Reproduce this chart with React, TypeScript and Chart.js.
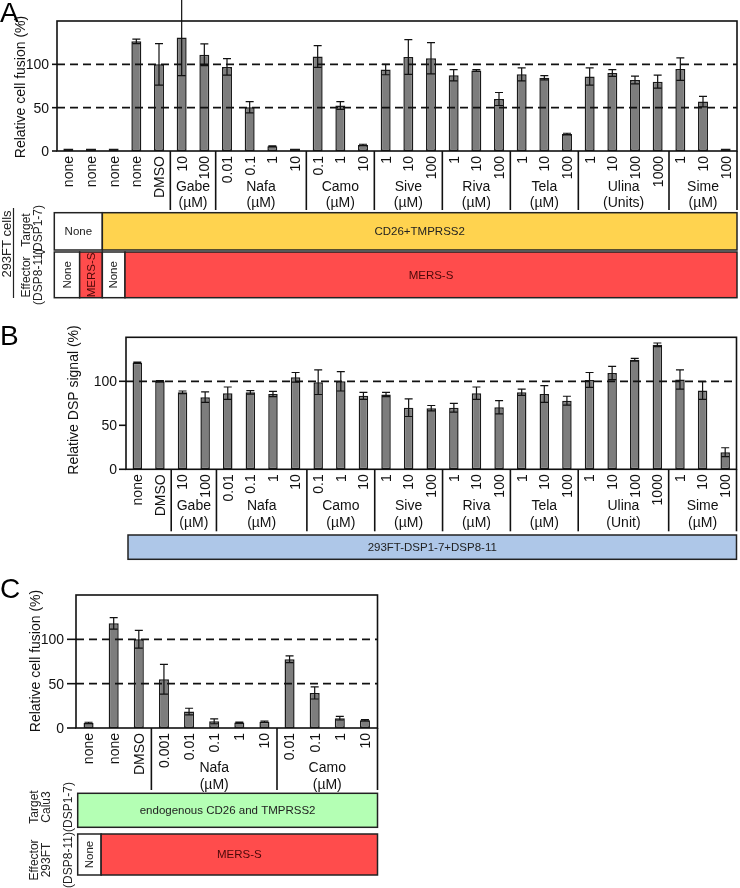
import React, { useEffect, useRef } from 'react';
import { Chart, registerables } from 'chart.js';

Chart.register(...registerables);

// ---------------- Panel A data ----------------
const aLabels = ['none', 'none', 'none', 'none', 'DMSO', '10', '100', '0.01', '0.1', '1', '10', '0.1', '1', '10', '1', '10', '100', '1', '10', '100', '1', '10', '100', '1', '10', '100', '1000', '1', '10', '100'];
const aValues = [0.8, 1, 1, 126.5, 100, 131, 111, 97, 50.5, 5.5, 1, 109, 52.5, 7, 94, 108.5, 107, 87.5, 93, 60, 88.5, 84.5, 19.5, 86, 90, 82, 80, 94.5, 57, 0.8];
const aErrors = [0, 0, 0, 2.5, 24, 44, 12.5, 9.5, 6.5, 0.5, 0, 12.5, 4.5, 0.8, 6, 20, 18, 6.5, 1, 7.5, 7.5, 2.5, 1, 10, 4, 4.5, 7.5, 13, 6, 0];
const aGroupNames = ['Gabe', 'Nafa', 'Camo', 'Sive', 'Riva', 'Tela', 'Ulina', 'Sime'];
const aGroupUnits = ['(µM)', '(µM)', '(µM)', '(µM)', '(µM)', '(µM)', '(Units)', '(µM)'];
const aGroupStarts = [5, 7, 11, 14, 17, 20, 23, 27];
const aGroupSizes = [2, 4, 3, 3, 3, 3, 4, 3];
const aRefLines = [50, 100];

// ---------------- Panel B data ----------------
const bLabels = ['none', 'DMSO', '10', '100', '0.01', '0.1', '1', '10', '0.1', '1', '10', '1', '10', '100', '1', '10', '100', '1', '10', '100', '1', '10', '100', '1000', '1', '10', '100'];
const bValues = [121, 100, 87.5, 82, 86.5, 87.5, 85.5, 104.5, 99, 100, 83.5, 85, 70, 69.5, 70, 86.5, 70.5, 87.5, 85.5, 78, 101.5, 109.5, 124.5, 141.5, 102, 89.5, 19.5];
const bErrors = [0.7, 0.7, 1.5, 6, 7, 2, 3, 5.5, 14, 11, 4, 2.5, 10, 3, 5, 7, 7.5, 3.5, 9.5, 5, 8.5, 7.5, 1.5, 2, 11, 10, 5];
const bGroupNames = ['Gabe', 'Nafa', 'Camo', 'Sive', 'Riva', 'Tela', 'Ulina', 'Sime'];
const bGroupUnits = ['(µM)', '(µM)', '(µM)', '(µM)', '(µM)', '(µM)', '(Unit)', '(µM)'];
const bGroupStarts = [2, 4, 8, 11, 14, 17, 20, 24];
const bGroupSizes = [2, 4, 3, 3, 3, 3, 4, 3];
const bRefLines = [100];

// ---------------- Panel C data ----------------
const cLabels = ['none', 'none', 'DMSO', '0.001', '0.01', '0.1', '1', '10', '0.01', '0.1', '1', '10'];
const cValues = [5.7, 118, 100, 55, 18.5, 7.5, 6.2, 7, 77.5, 39.5, 11, 8.8];
const cErrors = [0.8, 6.5, 10, 16.7, 3.8, 2.7, 0.5, 0.8, 3.8, 6.8, 2, 0.8];
const cGroupNames = ['Nafa', 'Camo'];
const cGroupUnits = ['(µM)', '(µM)'];
const cGroupStarts = [3, 8];
const cGroupSizes = [5, 4];
const cRefLines = [50, 100];

const yTickValues = [0, 50, 100];

const FONT = '"Liberation Sans", Arial, Helvetica, sans-serif';
const WHITE = '#ffffff';
const YELLOW = '#ffd34f';
const RED = '#ff4c4c';
const GREEN = '#b4ffb4';
const BLUE = '#aec7e8';
const DARKRED = '#4a0808';

type Cell = { start: number; end: number; fill: string; text: string; vertical?: boolean; color?: string };
type Row = { top: number; bottom: number; cells: Cell[] };
type SideText = { x: number; y: number; text: string; size: number };
type PanelCfg = {
  id: string;
  letter: string;
  letterY: number;
  top: number;
  height: number;
  padding: { left: number; right: number; top: number; bottom: number };
  labels: string[];
  values: number[];
  errors: number[];
  groupNames: string[];
  groupUnits: string[];
  groupStarts: number[];
  groupSizes: number[];
  refLines: number[];
  barPct: number;
  yTitle: string;
  yTitleX: number;
  yTitleY: number;
  tickLen: number;
  tickGap: number;
  labelDy: number;
  nameDy: number;
  unitDy: number;
  sepLen: number;
  rowLeft: number;
  rows: Row[];
  sides: SideText[];
  sideLine?: { x: number; y0: number; y1: number };
};

function vtext(ctx: CanvasRenderingContext2D, text: string, x: number, y: number, align: CanvasTextAlign) {
  ctx.save();
  ctx.translate(x, y);
  ctx.rotate(-Math.PI / 2);
  ctx.textAlign = align;
  ctx.textBaseline = 'middle';
  ctx.fillText(text, 0, 0);
  ctx.restore();
}

function makePlugin(cfg: PanelCfg) {
  return {
    id: 'panelDeco' + cfg.id,
    afterDatasetsDraw(chart: any) {
      const ctx: CanvasRenderingContext2D = chart.ctx;
      const ca = chart.chartArea;
      const xs = chart.scales.x;
      const ys = chart.scales.y;
      const n = cfg.labels.length;
      const off = cfg.top;
      const bound = (i: number) => (i <= 0 ? ca.left : i >= n ? ca.right : xs.getPixelForValue(i - 0.5));
      ctx.save();
      ctx.strokeStyle = '#111';
      ctx.fillStyle = '#111';

      // dashed reference lines
      ctx.lineWidth = 1.7;
      ctx.setLineDash([8, 5]);
      cfg.refLines.forEach((v) => {
        const py = ys.getPixelForValue(v);
        ctx.beginPath();
        ctx.moveTo(ca.left, py);
        ctx.lineTo(ca.right, py);
        ctx.stroke();
      });
      ctx.setLineDash([]);

      // error bars
      ctx.lineWidth = 1.2;
      const cap = 8;
      cfg.values.forEach((v, i) => {
        const e = cfg.errors[i];
        if (!e) return;
        const px = xs.getPixelForValue(i);
        const yHi = ys.getPixelForValue(v + e);
        const yLo = ys.getPixelForValue(Math.max(0, v - e));
        ctx.beginPath();
        ctx.moveTo(px, yLo);
        ctx.lineTo(px, yHi);
        ctx.moveTo(px - cap / 2, yHi);
        ctx.lineTo(px + cap / 2, yHi);
        ctx.moveTo(px - cap / 2, yLo);
        ctx.lineTo(px + cap / 2, yLo);
        ctx.stroke();
      });

      // frame
      ctx.lineWidth = 1.6;
      ctx.strokeRect(ca.left, ca.top, ca.right - ca.left, ca.bottom - ca.top);

      // y ticks and labels
      ctx.font = '14px ' + FONT;
      ctx.textAlign = 'right';
      ctx.textBaseline = 'middle';
      yTickValues.forEach((v) => {
        const py = ys.getPixelForValue(v);
        ctx.beginPath();
        ctx.moveTo(ca.left - cfg.tickLen, py);
        ctx.lineTo(ca.left, py);
        ctx.stroke();
        ctx.fillText(String(v), ca.left - cfg.tickGap, py + 1);
      });

      // y title
      ctx.font = '14px ' + FONT;
      vtext(ctx, cfg.yTitle, cfg.yTitleX, cfg.yTitleY - off, 'center');

      // category tick labels
      ctx.font = '14px ' + FONT;
      cfg.labels.forEach((lab, i) => {
        vtext(ctx, lab, xs.getPixelForValue(i) + 1, ca.bottom + cfg.labelDy, 'right');
      });

      // separators
      ctx.lineWidth = 1.6;
      const seps: number[] = [];
      cfg.groupStarts.forEach((s, gi) => {
        seps.push(s);
        if (gi === cfg.groupStarts.length - 1) seps.push(s + cfg.groupSizes[gi]);
      });
      seps.forEach((s) => {
        const px = bound(s);
        ctx.beginPath();
        ctx.moveTo(px, ca.bottom);
        ctx.lineTo(px, ca.bottom + cfg.sepLen);
        ctx.stroke();
      });

      // group names
      ctx.font = '14px ' + FONT;
      ctx.textAlign = 'center';
      ctx.textBaseline = 'middle';
      cfg.groupNames.forEach((name, gi) => {
        const cx = (bound(cfg.groupStarts[gi]) + bound(cfg.groupStarts[gi] + cfg.groupSizes[gi])) / 2;
        ctx.fillText(name, cx, ca.bottom + cfg.nameDy);
        ctx.fillText(cfg.groupUnits[gi], cx, ca.bottom + cfg.unitDy);
      });

      // condition rows
      cfg.rows.forEach((row) => {
        const t = row.top - off;
        const b = row.bottom - off;
        row.cells.forEach((cell) => {
          const l = cell.start === 0 ? cfg.rowLeft : bound(cell.start);
          const r = bound(cell.end);
          ctx.fillStyle = cell.fill;
          ctx.fillRect(l, t, r - l, b - t);
          ctx.lineWidth = 1.5;
          ctx.strokeStyle = '#222';
          ctx.strokeRect(l, t, r - l, b - t);
          ctx.fillStyle = cell.color || '#222';
          ctx.font = '11.5px ' + FONT;
          if (cell.vertical) {
            vtext(ctx, cell.text, (l + r) / 2 + 0.5, (t + b) / 2, 'center');
          } else {
            ctx.textAlign = 'center';
            ctx.textBaseline = 'middle';
            ctx.fillText(cell.text, (l + r) / 2, (t + b) / 2 + 0.5);
          }
        });
      });

      // side labels
      ctx.fillStyle = '#222';
      cfg.sides.forEach((s) => {
        ctx.font = s.size + 'px ' + FONT;
        vtext(ctx, s.text, s.x, s.y - off, 'center');
      });
      if (cfg.sideLine) {
        ctx.strokeStyle = '#222';
        ctx.lineWidth = 1.2;
        ctx.beginPath();
        ctx.moveTo(cfg.sideLine.x, cfg.sideLine.y0 - off);
        ctx.lineTo(cfg.sideLine.x, cfg.sideLine.y1 - off);
        ctx.stroke();
      }

      // panel letter
      ctx.fillStyle = '#000';
      ctx.font = '28px ' + FONT;
      ctx.textAlign = 'left';
      ctx.textBaseline = 'alphabetic';
      ctx.fillText(cfg.letter, 0, cfg.letterY - off);

      ctx.restore();
    },
  };
}

const panelA: PanelCfg = {
  id: 'A', letter: 'A', letterY: 22, top: 0, height: 305,
  padding: { left: 57, right: 3, top: 21, bottom: 154 },
  labels: aLabels, values: aValues, errors: aErrors,
  groupNames: aGroupNames, groupUnits: aGroupUnits, groupStarts: aGroupStarts, groupSizes: aGroupSizes,
  refLines: aRefLines, barPct: 0.44,
  yTitle: 'Relative cell fusion (%)', yTitleX: 21, yTitleY: 87,
  tickLen: 5, tickGap: 8, labelDy: 5, nameDy: 36, unitDy: 52, sepLen: 59,
  rowLeft: 54.3,
  rows: [
    { top: 212.7, bottom: 250, cells: [
      { start: 0, end: 2, fill: WHITE, text: 'None' },
      { start: 2, end: 30, fill: YELLOW, text: 'CD26+TMPRSS2' },
    ] },
    { top: 252, bottom: 297.7, cells: [
      { start: 0, end: 1, fill: WHITE, text: 'None', vertical: true },
      { start: 1, end: 2, fill: RED, text: 'MERS-S', vertical: true, color: DARKRED },
      { start: 2, end: 3, fill: WHITE, text: 'None', vertical: true },
      { start: 3, end: 30, fill: RED, text: 'MERS-S', color: DARKRED },
    ] },
  ],
  sides: [
    { x: 7, y: 244, text: '293FT cells', size: 13 },
    { x: 27, y: 230, text: 'Target', size: 12 },
    { x: 39, y: 230, text: '(DSP1-7)', size: 12 },
    { x: 27, y: 277, text: 'Effector', size: 12 },
    { x: 39, y: 277, text: '(DSP8-11)', size: 12 },
  ],
  sideLine: { x: 13.5, y0: 208, y1: 298 },
};

const panelB: PanelCfg = {
  id: 'B', letter: 'B', letterY: 345, top: 315, height: 255,
  padding: { left: 126, right: 3.5, top: 22.3, bottom: 100.7 },
  labels: bLabels, values: bValues, errors: bErrors,
  groupNames: bGroupNames, groupUnits: bGroupUnits, groupStarts: bGroupStarts, groupSizes: bGroupSizes,
  refLines: bRefLines, barPct: 0.42,
  yTitle: 'Relative DSP signal (%)', yTitleX: 74, yTitleY: 400,
  tickLen: 7, tickGap: 9, labelDy: 5, nameDy: 37, unitDy: 54, sepLen: 62,
  rowLeft: 128,
  rows: [
    { top: 535, bottom: 559.3, cells: [
      { start: 0, end: 27, fill: BLUE, text: '293FT-DSP1-7+DSP8-11' },
    ] },
  ],
  sides: [],
};

const panelC: PanelCfg = {
  id: 'C', letter: 'C', letterY: 598, top: 570, height: 318,
  padding: { left: 76, right: 362.5, top: 25, bottom: 160 },
  labels: cLabels, values: cValues, errors: cErrors,
  groupNames: cGroupNames, groupUnits: cGroupUnits, groupStarts: cGroupStarts, groupSizes: cGroupSizes,
  refLines: cRefLines, barPct: 0.4,
  yTitle: 'Relative cell fusion (%)', yTitleX: 36, yTitleY: 661,
  tickLen: 9, tickGap: 12, labelDy: 5, nameDy: 40, unitDy: 57, sepLen: 62,
  rowLeft: 77.7,
  rows: [
    { top: 793.3, bottom: 827.3, cells: [
      { start: 0, end: 12, fill: GREEN, text: 'endogenous CD26 and TMPRSS2' },
    ] },
    { top: 834, bottom: 875, cells: [
      { start: 0, end: 1, fill: WHITE, text: 'None', vertical: true },
      { start: 1, end: 12, fill: RED, text: 'MERS-S', color: DARKRED },
    ] },
  ],
  sides: [
    { x: 35, y: 807, text: 'Target', size: 12 },
    { x: 47, y: 807, text: 'Calu3', size: 12 },
    { x: 69, y: 807, text: '(DSP1-7)', size: 12 },
    { x: 35, y: 860, text: 'Effector', size: 12 },
    { x: 47, y: 860, text: '293FT', size: 12 },
    { x: 69, y: 860, text: '(DSP8-11)', size: 12 },
  ],
};

function Panel({ cfg }: { cfg: PanelCfg }) {
  const ref = useRef<HTMLCanvasElement>(null);
  useEffect(() => {
    if (!ref.current) return;
    const chart = new Chart(ref.current, {
      type: 'bar',
      data: {
        labels: cfg.labels,
        datasets: [
          {
            data: cfg.values,
            backgroundColor: '#7d7d7d',
            borderColor: '#1a1a1a',
            borderWidth: 1.5,
            borderSkipped: false,
            minBarLength: 2.5,
            barPercentage: cfg.barPct,
            categoryPercentage: 1,
          } as any,
        ],
      },
      options: {
        responsive: false,
        maintainAspectRatio: false,
        animation: false,
        events: [],
        layout: { padding: cfg.padding },
        plugins: { legend: { display: false }, tooltip: { enabled: false } },
        scales: {
          x: { display: false, offset: true },
          y: { display: false, min: 0, max: 150 },
        },
      },
      plugins: [makePlugin(cfg)],
    });
    return () => chart.destroy();
  }, [cfg]);
  return (
    <canvas
      ref={ref}
      width={740}
      height={cfg.height}
      style={{ position: 'absolute', left: 0, top: cfg.top, width: 740, height: cfg.height }}
    />
  );
}

export default function App() {
  return (
    <div style={{ position: 'absolute', left: 0, top: 0, width: 740, height: 888, background: '#fff', overflow: 'hidden' }}>
      <Panel cfg={panelA} />
      <Panel cfg={panelB} />
      <Panel cfg={panelC} />
    </div>
  );
}
